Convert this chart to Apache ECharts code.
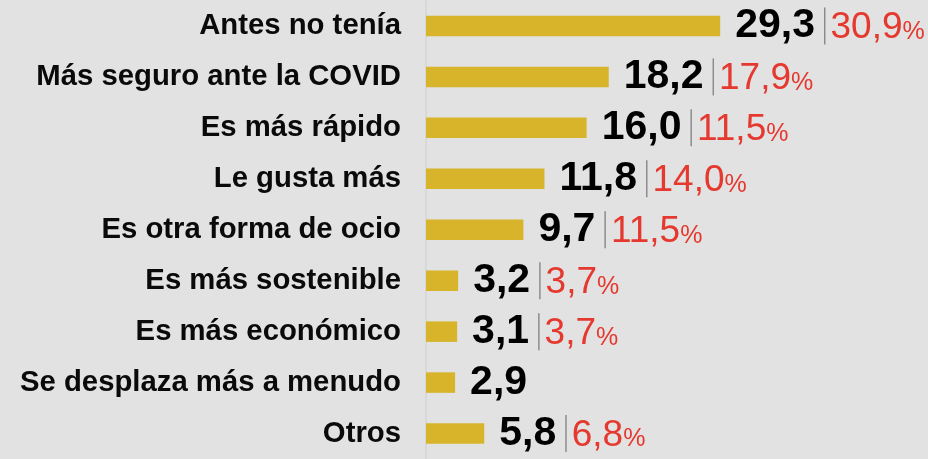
<!DOCTYPE html>
<html>
<head>
<meta charset="utf-8">
<script src="https://cdn.jsdelivr.net/npm/echarts@6/dist/echarts.min.js"></script>
<style>
  html, body { margin: 0; padding: 0; background: #e1e2e1; }
  #chart { width: 928px; height: 459px; }
</style>
</head>
<body>
<div id="chart"></div>
<script>
const categories = [
  'Antes no tenía',
  'Más seguro ante la COVID',
  'Es más rápido',
  'Le gusta más',
  'Es otra forma de ocio',
  'Es más sostenible',
  'Es más económico',
  'Se desplaza más a menudo',
  'Otros'
]
const values = [29.3, 18.2, 16.0, 11.8, 9.7, 3.2, 3.1, 2.9, 5.8]
const percents = [30.9, 17.9, 11.5, 14.0, 11.5, 3.7, 3.7, null, 6.8]

const fmt = v => v.toFixed(1).replace('.', ',')
const font = 'Liberation Sans, Arial, sans-serif'

const chart = echarts.init(document.getElementById('chart'))

chart.setOption({
  backgroundColor: '#e1e2e1',
  animation: false,
  grid: { left: 426, top: 0.5, width: 505, height: 462.6 },
  xAxis: {
    type: 'value',
    min: 0,
    max: 50,
    show: false
  },
  yAxis: {
    type: 'category',
    data: categories,
    inverse: true,
    axisLine: { show: true, lineStyle: { color: '#d4d5d4', width: 1.5 } },
    axisTick: { show: false },
    axisLabel: {
      margin: 25,
      color: '#0a0a0a',
      fontFamily: font,
      fontWeight: 'bold',
      fontSize: 29.3
    },
    splitLine: { show: false }
  },
  series: [
    {
      type: 'bar',
      data: values,
      barWidth: 20.5,
      itemStyle: { color: '#d7b42a' },
      label: {
        show: true,
        position: 'right',
        distance: 15,
        fontFamily: font,
        formatter: p => {
          const pc = percents[p.dataIndex]
          let s = '{v|' + fmt(p.value) + '}'
          if (pc != null) s += '{s|}{p|' + fmt(pc) + '}{pc|%}'
          return s
        },
        rich: {
          v: {
            fontFamily: font, fontWeight: 'bold', fontSize: 41, color: '#000',
            lineHeight: 41, verticalAlign: 'bottom', padding: [0, 9, 0, 0]
          },
          s: { width: 1.5, height: 37, backgroundColor: '#8c8c8c', verticalAlign: 'middle' },
          p: {
            fontFamily: font, fontSize: 37, color: '#e5382f',
            lineHeight: 37, verticalAlign: 'bottom', padding: [0, 0, 0, 5]
          },
          pc: {
            fontFamily: font, fontSize: 25, color: '#e5382f',
            lineHeight: 25, verticalAlign: 'bottom', padding: [0, 0, 2, 0]
          }
        }
      }
    }
  ]
})
</script>
</body>
</html>
